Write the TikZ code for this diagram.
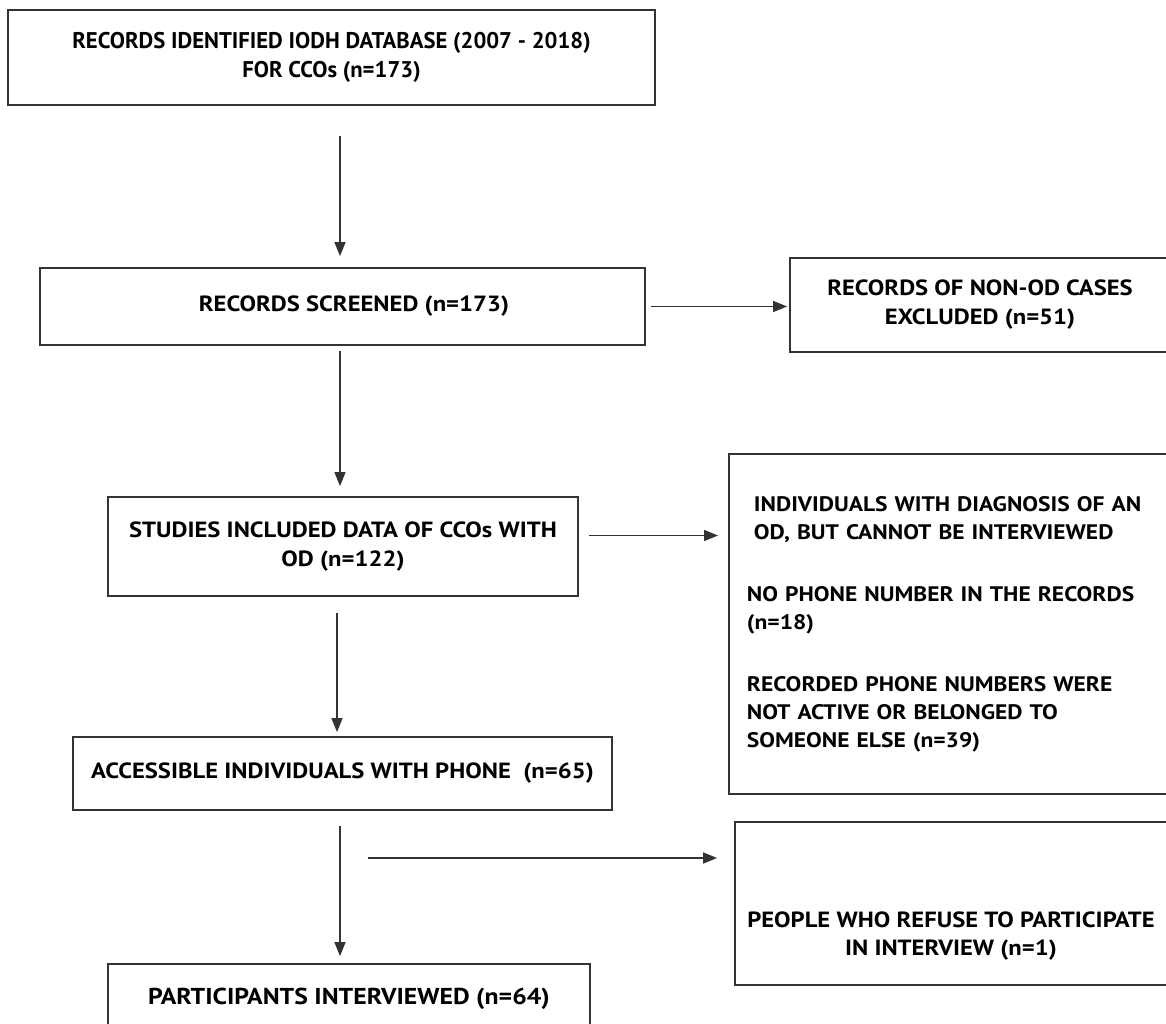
\documentclass[tikz,border=0pt]{standalone}
\usepackage{fontspec}
\setmainfont[FakeStretch=1.12]{PT Sans}
\newfontfamily\condfont{PT Sans}
\usetikzlibrary{arrows.meta}
\begin{document}
\begin{tikzpicture}[x=1pt,y=-1pt,
  box/.style={draw=black!80, line width=1.8pt, inner sep=0pt, align=center,
              font=\fontsize{22}{29}\selectfont\bfseries},
  txt/.style={inner sep=0pt, align=center, font=\fontsize{22}{29}\selectfont\bfseries},
  arr/.style={draw=black!80, line width=1.4pt, -{Triangle[length=14pt,width=11pt]}}]
\useasboundingbox (0,0) rectangle (1166,1024);

\node[box, minimum width=647pt, minimum height=95pt, font=\condfont\fontsize{22.7}{29}\selectfont\bfseries] (b1) at (331.5,57.5)
  {RECORDS IDENTIFIED IODH DATABASE (2007 - 2018)\\FOR CCOs (n=173)};
\node[box, minimum width=605pt, minimum height=77pt] (b2) at (342.5,306.5)
  {\hspace*{23pt}RECORDS SCREENED (n=173)};
\node[box, minimum width=380pt, minimum height=94pt] (b3) at (980,305)
  {RECORDS OF NON-OD CASES\\EXCLUDED (n=51)};
\node[box, minimum width=470pt, minimum height=99pt] (b4) at (343,546.5)
  {STUDIES INCLUDED DATA OF CCOs WITH\\OD (n=122)};
\node[box, anchor=west, inner xsep=18pt, text width=424pt, align=left,
      minimum height=340pt, font=\fontsize{21}{28}\selectfont\bfseries] (b5) at (728,624)
  {\hspace*{7pt}INDIVIDUALS WITH DIAGNOSIS OF AN\\
   \hspace*{7pt}OD, BUT CANNOT BE INTERVIEWED\\[34pt]
   NO PHONE NUMBER IN THE RECORDS\\
   (n=18)\\[34pt]
   RECORDED PHONE NUMBERS WERE\\
   NOT ACTIVE OR BELONGED TO\\
   SOMEONE ELSE (n=39)};
\node[box, minimum width=539pt, minimum height=73pt] (b6) at (342.5,773.5)
  {ACCESSIBLE INDIVIDUALS WITH PHONE~~(n=65)};
\node[box, minimum width=435pt, minimum height=163pt] (b7) at (952.5,903.5) {};
\node[txt, font=\fontsize{22}{28}\selectfont\bfseries] (t7) at (951,936)
  {PEOPLE WHO REFUSE TO PARTICIPATE\\IN INTERVIEW (n=1)};
\node[box, minimum width=482pt, minimum height=70pt, font=\fontsize{23}{29}\selectfont\bfseries] (b8) at (349,999)
  {PARTICIPANTS INTERVIEWED (n=64)};

\coordinate (r3s) at (368,858);

\draw[arr, shorten <=30pt, shorten >=11pt] ([xshift=8.5pt]b1.south) -- ([xshift=-2.5pt]b2.north);
\draw[arr, shorten <=5pt, shorten >=2pt] (b2.east) -- (b2.east -| b3.west);
\draw[arr, shorten <=5pt, shorten >=10pt] ([xshift=-2.5pt]b2.south) -- ([xshift=-3pt]b4.north);
\draw[arr, shorten <=10pt, shorten >=10pt] ([yshift=11pt]b4.east) -- ([yshift=11pt]b4.east -| b5.west);
\draw[arr, shorten <=16pt, shorten >=4pt] ([xshift=-6pt]b4.south) -- ([xshift=-6pt]b4.south |- b6.north);
\draw[arr, shorten <=15pt, shorten >=7pt] ([xshift=-2.5pt]b6.south) -- ([xshift=-2.5pt]b6.south |- b8.north);
\draw[arr, shorten >=17pt] (r3s) -- (r3s -| b7.west);
\end{tikzpicture}
\end{document}
